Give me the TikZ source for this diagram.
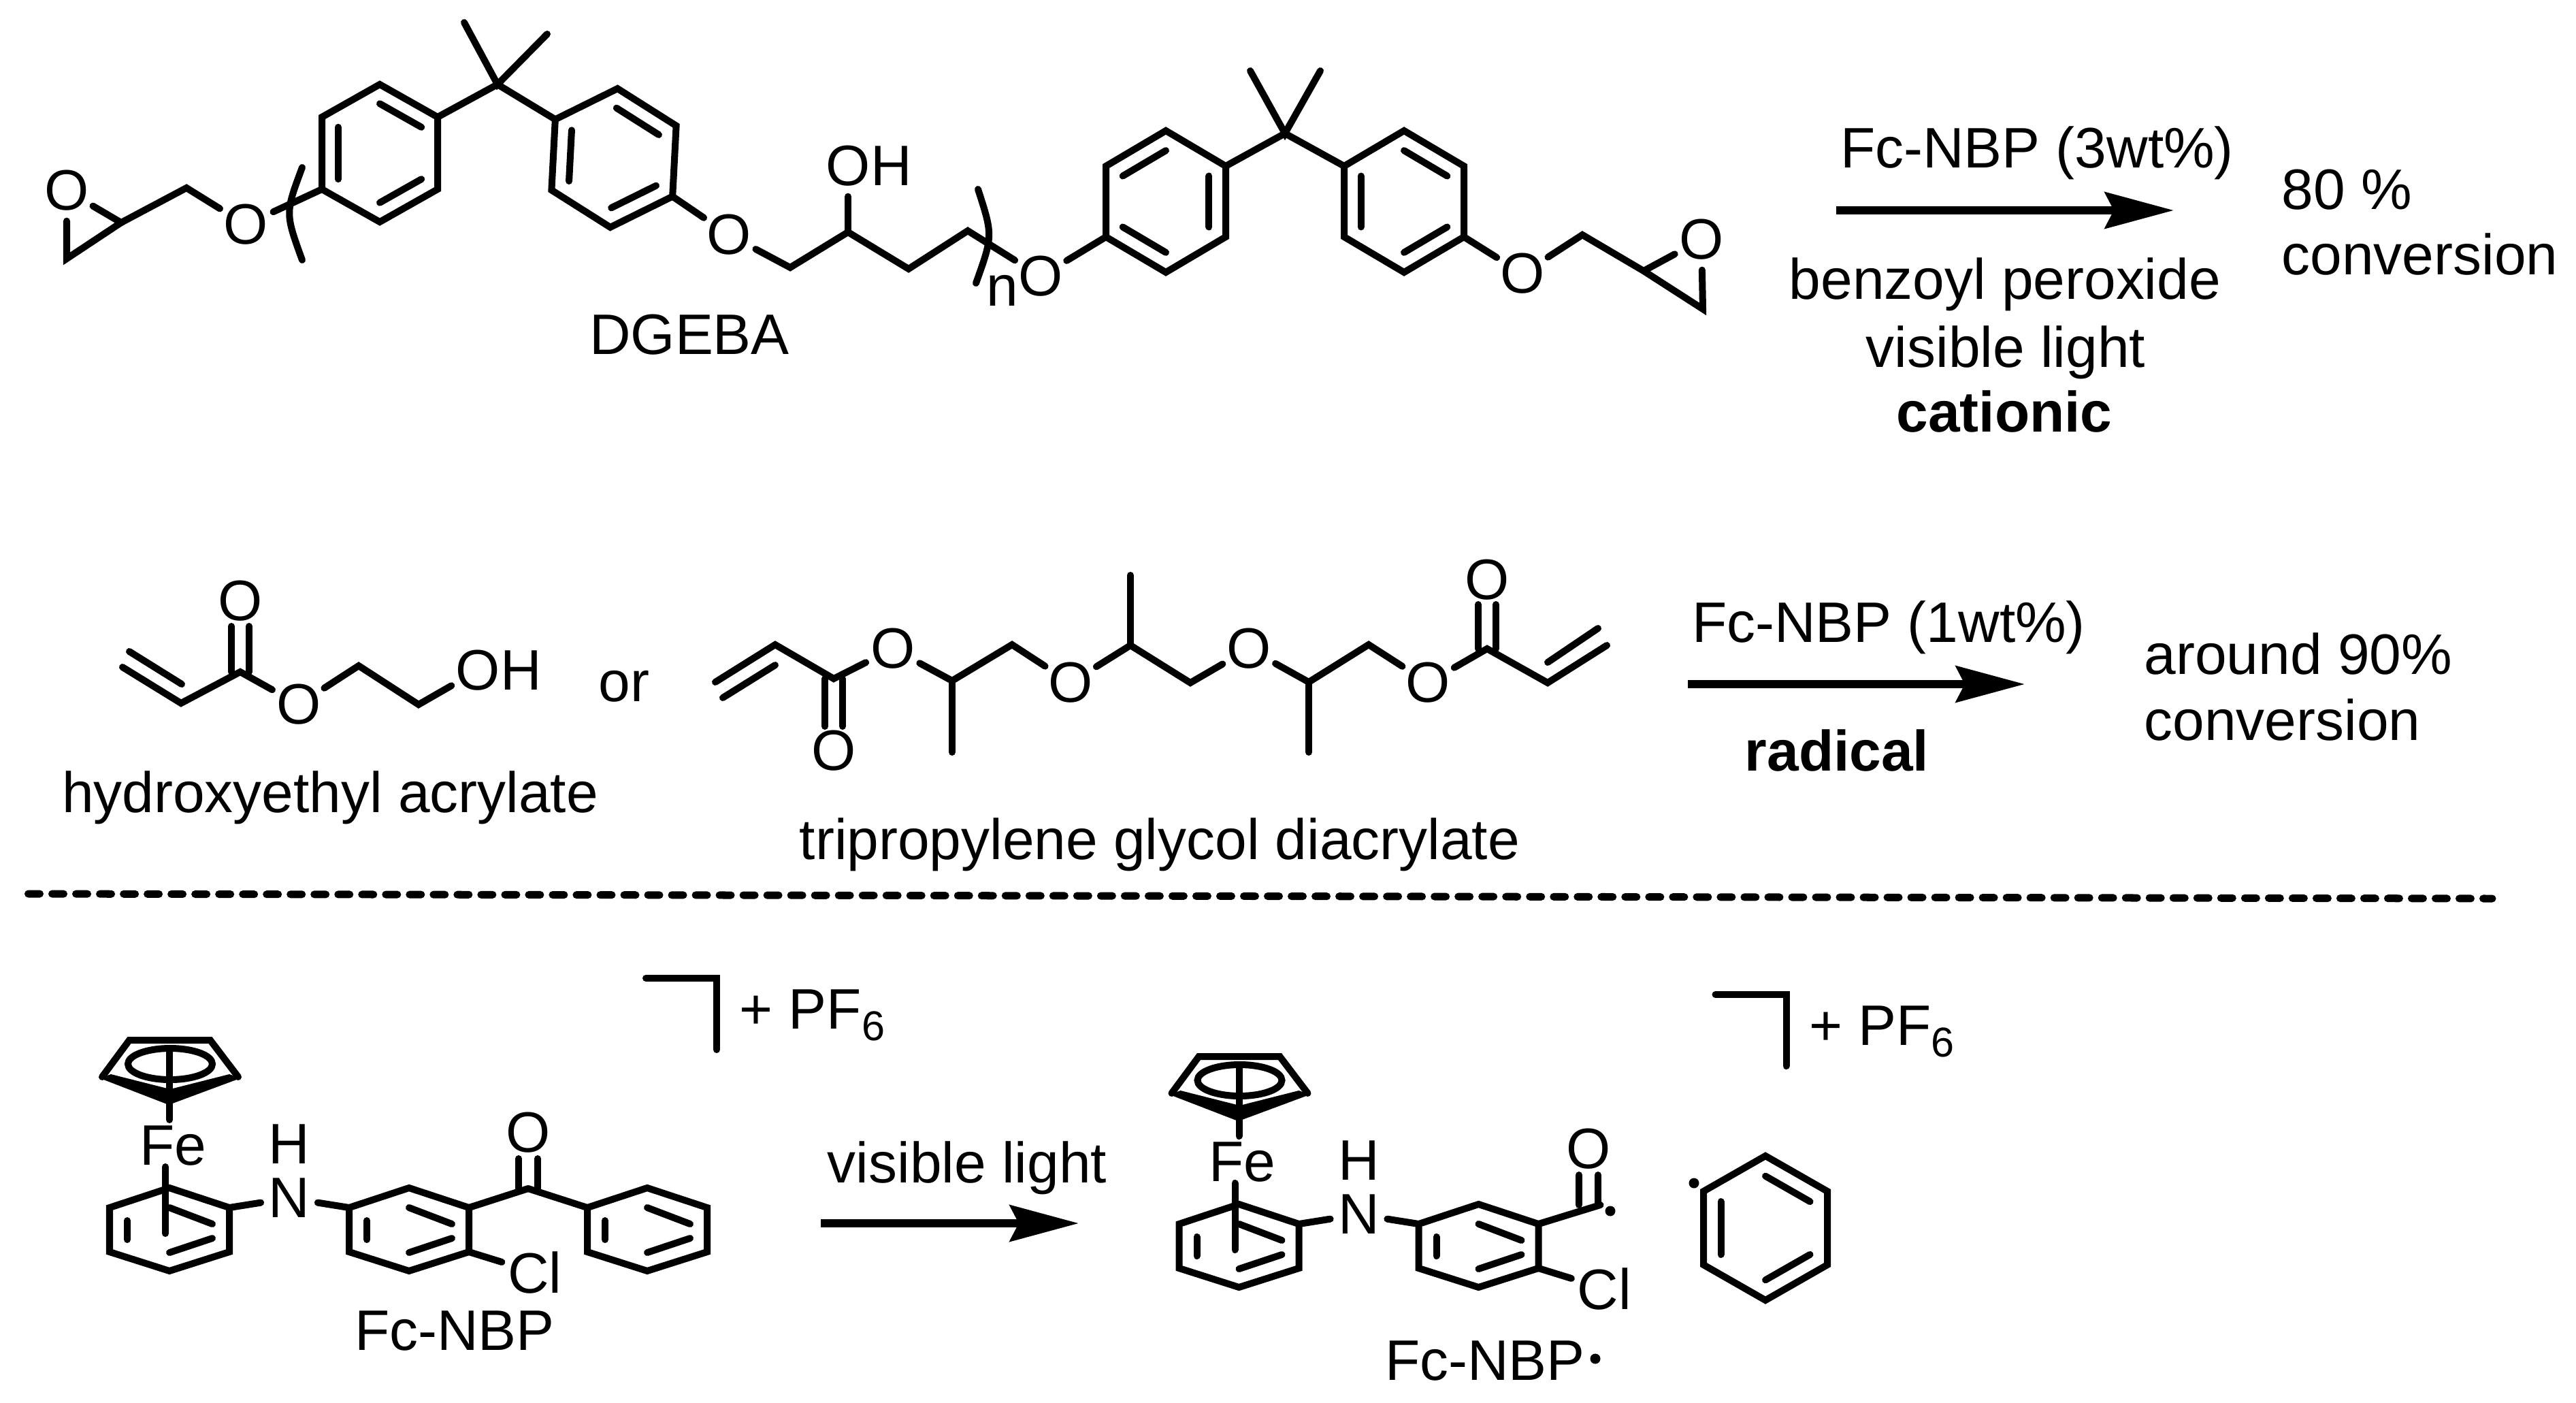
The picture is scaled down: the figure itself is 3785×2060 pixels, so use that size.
\documentclass[tikz,border=0pt]{standalone}
\usepackage{fontspec}
\setmainfont{Liberation Sans}
\usetikzlibrary{calc}
\usetikzlibrary{arrows.meta}
\tikzset{
    every node/.style={font=\fontsize{23.85}{28}\selectfont},
    bond/.style={line width=.1cm,line cap=round,line join=miter},
    atom/.style={circle,inner sep=0pt},
    lab/.style={inner sep=0pt},
    rxn/.style={line width=.12cm,-{Stealth[length=1.01cm,width=.53cm,inset=.13cm]}},
    dashline/.style={line width=.11cm,line cap=round,dash pattern=on .17cm off .18cm}
}
\begin{document}
\begin{tikzpicture}[x=.01cm,y=-.01cm]
\useasboundingbox (0,0) rectangle (3785,2060);
% atoms of the two top rows
\foreach \x/\y/\p/\labeltext in {98/280/oa/O, 361/330/ob/O, 1071/345/oc/O, 1246/244/od/O, 1310/244/hd/H, 1529/406/oe/O, 2237/402/of/O, 2500/352/og/O, 353/883/oh/O, 439/1035/oi/O, 702/985/oj/O, 766/985/hj/H, 1225/1103/ok/O, 1312/953/ol/O, 1573/1003/om/O, 1835/953/on/O, 2098/1003/oo/O, 2185/852/op/O}{
    \node[atom] (\p) at (\x,\y) {\labeltext};
}
% carbon skeleton points
\foreach \x/\y/\p in {178/327/ea, 98/380/eb, 274/276/ec, 731/124/qa, 682/33/qb, 804/50/qc, 1161/393/ca, 1246/341/cb, 1335/395/cc, 1422/339/cd, 1888/196/qd, 1837/104/qe, 1940/104/qf, 2325/345/ce, 2415/398/cf, 2502/454/cg, 444/246/pa, 419/313/pb, 444/382/pc, 1437/278/pd, 1459/346/pe, 1434/416/pf, 180/980/va, 266/1033/vb, 353/987/vc, 527/978/vd, 615/1035/ve, 190/957/vf, 267/1005/vg, 1051/1002/wa, 1139/947/wb, 1225/997/wc, 1399/1000/wd, 1487/947/we, 1661/948/wf, 1749/1003/wg, 1923/1002/wh, 2011/947/wi, 2185/953/wj, 2274/1003/wk, 2361/948/wl, 1062/1025/wm, 1139/977/wn, 2274/973/wo, 2348/923/wp, 1399/1105/wq, 1661/845/wr, 1923/1105/ws, 41.5/1313/dl, 3662/1320/dr, 2698/309/aa, 3194/309/ab, 2480/1005/ac, 2975/1005/ad, 1206/1797/ae, 1585/1797/af, 2489/1738/da, 2366/1779/db, 2344/1996/dc}{
    \coordinate (\p) at (\x,\y);
}
% large rings, inner bond by fraction towards the centre
\foreach \n/\cx/\cy/\w/\h/\s/\a/\k in {r1/558/225/85/101/53/0/0, r2/902/232/89/102/52/-3/0, r3/1713/296/88/104/52/0/1, r4/2063/296/88/104/52/0/0, bz/2594/1804/91/106/54/0/0}{
    \begin{scope}[shift={(\cx,\cy)},rotate=\a]
    \coordinate (\n-c) at (0,0);
    \coordinate (\n-1) at (0,-\h);
    \coordinate (\n-2) at (\w,-\s);
    \coordinate (\n-3) at (\w,\s);
    \coordinate (\n-4) at (0,\h);
    \coordinate (\n-5) at (-\w,\s);
    \coordinate (\n-6) at (-\w,-\s);
    \end{scope}
    \draw[bond] (\n-1)--(\n-2)--(\n-3)--(\n-4)--(\n-5)--(\n-6)--cycle;
    \foreach \i in {1,3,5}{
        \pgfmathtruncatemacro\ii{mod(\i+\k-1,6)+1}
        \pgfmathtruncatemacro\jj{mod(\i+\k,6)+1}
        \draw[bond] ($(\n-\ii)!.28!(\n-c)$)--($(\n-\jj)!.28!(\n-c)$);
    }
}
% flat rings of the bottom row
\foreach \n/\cx/\cy in {la/249/1806, lb/601/1806, lc/951/1806, ra/1820.5/1830, rb/2172.5/1830}{
    \coordinate (\n-c) at (\cx,\cy);
    \coordinate (\n-1) at (\cx,\cy-61);
    \coordinate (\n-2) at (\cx+88,\cy-32);
    \coordinate (\n-3) at (\cx+88,\cy+33);
    \coordinate (\n-4) at (\cx,\cy+61);
    \coordinate (\n-5) at (\cx-88,\cy+33);
    \coordinate (\n-6) at (\cx-88,\cy-32);
    \draw[bond] (\n-1)--(\n-2)--(\n-3)--(\n-4)--(\n-5)--(\n-6)--cycle;
    \foreach \xa/\ya/\xb/\yb in {-62/-13/-62/15, 0/-32/63/-8, 0/34/63/13}{
        \draw[bond] ($(\n-c)+(\xa,\ya)$)--($(\n-c)+(\xb,\yb)$);
    }
}
% DGEBA
\draw[bond] (oa)--(eb)--(ea)--(oa);
\draw[bond] (ea)--(ec)--(ob)--(r1-5);
\draw[bond] (r1-2)--(qa)--(r2-6);
\draw[bond] (qb)--(qa)--(qc);
\draw[bond] (r2-3)--(oc)--(ca)--(cb)--(cc)--(cd)--(oe)--(r3-5);
\draw[bond] (cb)--(od);
\draw[bond] (r3-2)--(qd)--(r4-6);
\draw[bond] (qe)--(qd)--(qf);
\draw[bond] (r4-3)--(of)--(ce)--(cf)--(cg)--(og);
\draw[bond] (cf)--(og);
\draw[bond] (pa) .. controls (pb) .. (pc);
\draw[bond] (pd) .. controls (pe) .. (pf);
% acrylates
\draw[bond] (va)--(vb)--(vc)--(oi)--(vd)--(ve)--(oj);
\draw[bond] (vf)--(vg);
\draw[bond] (wa)--(wb)--(wc)--(ol)--(wd)--(we)--(om)--(wf)--(wg)--(on)--(wh)--(wi)--(oo)--(wj)--(wk)--(wl);
\draw[bond] (wm)--(wn);
\draw[bond] (wo)--(wp);
\draw[bond] (wd)--(wq);
\draw[bond] (wf)--(wr);
\draw[bond] (wh)--(ws);
\foreach \s in {-13,13}{
    \draw[bond] ($(oh)+(\s,37)$)--($(oh)+(\s,104)$);
    \draw[bond] ($(ok)+(\s,-36)$)--($(ok)+(\s,-106)$);
    \draw[bond] ($(op)+(\s,36)$)--($(op)+(\s,101)$);
}
% the ferrocenium unit, twice
\foreach \u/\dx/\dy/\ox/\kx in {l/0/0/776/776, r/1571.5/24/762.5/780}{
    \begin{scope}[shift={(\dx,\dy)}]
    \node[atom] (\u fe) at (254,1683) {Fe};
    \node[atom] (\u h) at (425,1681) {H};
    \node[atom] (\u n) at (425,1760) {N};
    \node[atom] (\u cl) at (786,1869) {Cl};
    \node[atom] (\u ox) at (\ox,1664) {O};
    \node[lab,anchor=base west] (\u pf) at (1086,1511) {+ PF{\fontsize{17.4}{20}\selectfont\raisebox{-5pt}{6}}};
    \coordinate (\u co) at (\kx,1746);
    \coordinate (\u cpa) at (150,1582);
    \coordinate (\u cpb) at (190,1528);
    \coordinate (\u cpc) at (309,1528);
    \coordinate (\u cpd) at (350,1582);
    \coordinate (\u cpe) at (147,1584);
    \coordinate (\u cpf) at (248,1623);
    \coordinate (\u cpg) at (353,1584);
    \coordinate (\u cph) at (337,1578);
    \coordinate (\u cpi) at (250,1600);
    \coordinate (\u cpj) at (163,1578);
    \coordinate (\u cpk) at (250,1563);
    \coordinate (\u vta) at (249,1543);
    \coordinate (\u vtb) at (249,1645);
    \coordinate (\u vtc) at (243,1714);
    \coordinate (\u vtd) at (243,1812);
    \coordinate (\u bra) at (949,1437);
    \coordinate (\u brb) at (1053,1437);
    \coordinate (\u brc) at (1053,1542);
    \draw[bond] (\u cpa)--(\u cpb)--(\u cpc)--(\u cpd);
    \fill (\u cpe)--(\u cpf)--(\u cpg)--(\u cph)--(\u cpi)--(\u cpj)--cycle;
    \draw[bond] (\u cpk) ellipse [x radius=62,y radius=23];
    \draw[bond] (\u vta)--(\u vtb);
    \draw[bond] (\u vtc)--(\u vtd);
    \draw[bond] (\u bra)--(\u brb)--(\u brc);
    \foreach \s in {-14,14}{
        \draw[bond] ($(\u ox)+(\s,38)$)--($(\u ox)+(\s,82)$);
    }
    \end{scope}
    \draw[bond] (\u a-2)--(\u n)--(\u b-6);
    \draw[bond] (\u b-3)--(\u cl);
    \draw[bond] (\u b-2)--(\u co);
}
\draw[bond] (lco)--(lc-6);
% radical dots
\foreach \p in {da,db,dc}{
    \fill (\p) circle (7.5);
}
% arrows and separator
\draw[rxn] (aa)--(ab);
\draw[rxn] (ac)--(ad);
\draw[rxn] (ae)--(af);
\draw[dashline] (dl)--(dr);
% labels
\foreach \x/\y/\p/\anc/\labeltext in {1013/520/dgeba/base/{DGEBA}, 1473/449/nidx/base/{n}, 2993/246/cata/base/{Fc-NBP (3wt\%)}, 2946/439/bpo/base/{benzoyl peroxide}, 2947/539/visa/base/{visible light}, 2945/634/cat/base/{\bfseries cationic}, 3352/307/conva/base west/{80 \%}, 3352/403/convb/base west/{conversion}, 485/1193/hea/base/{hydroxyethyl acrylate}, 917/1030/orw/base/{or}, 1704/1262/tpg/base/{tripropylene glycol diacrylate}, 2775/943/catb/base/{Fc-NBP (1wt\%)}, 2699/1132/rad/base/{\bfseries radical}, 3150/990/convc/base west/{around 90\%}, 3150/1087/convd/base west/{conversion}, 1421/1737/visb/base/{visible light}, 668/1983/fca/base/{Fc-NBP}, 2182/2027/fcb/base/{Fc-NBP}}{
    \node[lab,anchor=\anc] (\p) at (\x,\y) {\labeltext};
}
\end{tikzpicture}
\end{document}
